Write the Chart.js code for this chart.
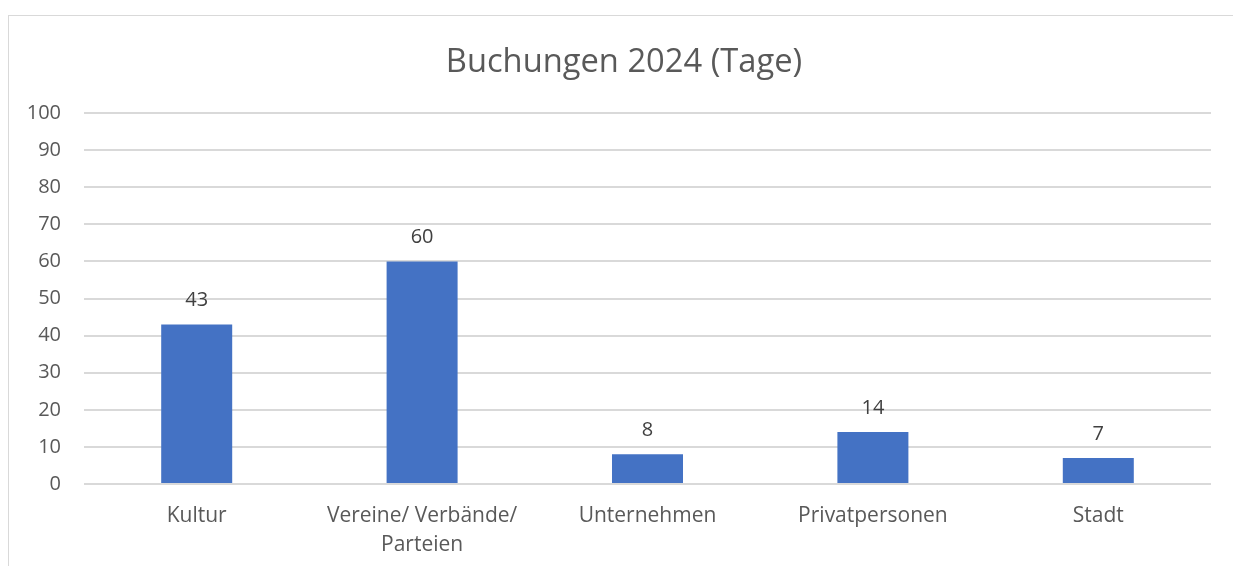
<!DOCTYPE html>
<html>
<head>
<meta charset="utf-8">
<script src="https://cdn.jsdelivr.net/npm/chart.js@4"></script>
<style>
  html, body { margin: 0; padding: 0; background: #ffffff; }
  #wrap { position: relative; width: 1233px; height: 566px; overflow: hidden; }
  #frame { position: absolute; left: 8px; top: 15px; width: 1240px; height: 600px;
           border-top: 1px solid #d9d9d9; border-left: 1px solid #d9d9d9; box-sizing: border-box; }
  canvas { position: absolute; left: 0; top: 0; }
</style>
</head>
<body>
<div id="wrap">
  <div id="frame"></div>
  <canvas id="c" width="1233" height="566"></canvas>
</div>
<script>
const chartTitle = "Buchungen 2024 (Tage)";
const categories = ["Kultur", ["Vereine/ Verbände/", "Parteien"], "Unternehmen", "Privatpersonen", "Stadt"];
const bookings = [43, 60, 8, 14, 7];
const yTicks = [0, 10, 20, 30, 40, 50, 60, 70, 80, 90, 100];

const FONT = "'Open Sans', 'Noto Sans', sans-serif";

const titlePlugin = {
  id: 'frameTitle',
  afterDraw(chart) {
    const ctx = chart.ctx;
    ctx.save();
    ctx.font = "32.7px " + FONT;
    ctx.fillStyle = "#595959";
    ctx.textAlign = "center";
    ctx.textBaseline = "alphabetic";
    ctx.fillText(chartTitle, 624, 72);
    ctx.restore();
  }
};

const valueLabels = {
  id: 'valueLabels',
  afterDatasetsDraw(chart) {
    const ctx = chart.ctx;
    ctx.save();
    ctx.font = "20px " + FONT;
    ctx.fillStyle = "#404040";
    ctx.textAlign = "center";
    ctx.textBaseline = "alphabetic";
    chart.getDatasetMeta(0).data.forEach((bar, i) => {
      ctx.fillText(String(bookings[i]), bar.x, bar.y - 18);
    });
    ctx.restore();
  }
};

new Chart(document.getElementById('c'), {
  type: 'bar',
  data: {
    labels: categories,
    datasets: [{
      data: bookings,
      backgroundColor: '#4472C4',
      borderWidth: 0,
      categoryPercentage: 1.0,
      barPercentage: 0.315
    }]
  },
  options: {
    responsive: false,
    animation: false,
    devicePixelRatio: 1,
    layout: { padding: { left: 0, right: 22, top: 113, bottom: 0 } },
    plugins: {
      legend: { display: false },
      title: { display: false },
      tooltip: { enabled: false }
    },
    scales: {
      x: {
        grid: { display: false, drawTicks: false },
        border: { display: false },
        ticks: {
          color: '#595959',
          font: { family: FONT, size: 21, lineHeight: 1.38 },
          padding: 18,
          maxRotation: 0,
          autoSkip: false
        },
        afterFit(scale) { scale.height = 82; }
      },
      y: {
        min: 0,
        max: 100,
        afterBuildTicks(scale) { scale.ticks = yTicks.map(v => ({ value: v })); },
        grid: { color: '#d9d9d9', lineWidth: 2, drawTicks: false },
        border: { display: false },
        ticks: {
          color: '#595959',
          font: { family: FONT, size: 20 },
          padding: 23
        },
        afterFit(scale) { scale.width = 84; }
      }
    }
  },
  plugins: [titlePlugin, valueLabels]
});
</script>
</body>
</html>
